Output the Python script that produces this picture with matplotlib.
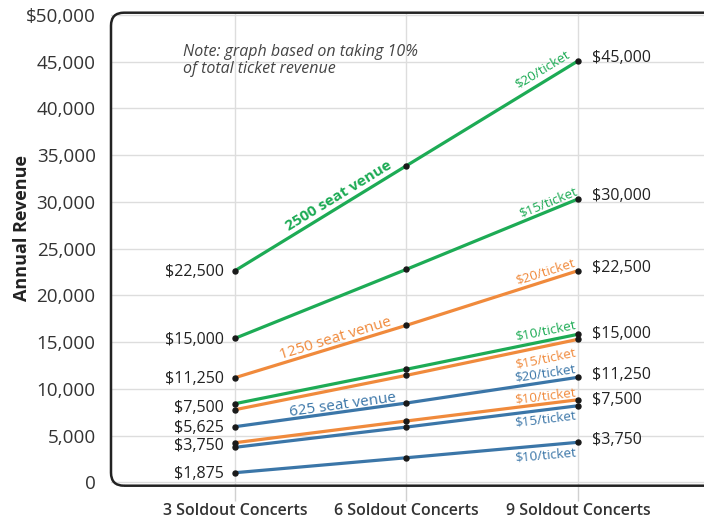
import math
import matplotlib
matplotlib.use('Agg')
import matplotlib.pyplot as plt
from matplotlib.patches import FancyBboxPatch
from matplotlib.transforms import IdentityTransform

plt.rcParams['font.family'] = ['Open Sans', 'DejaVu Sans']

# categories
concerts = ['3 Soldout Concerts', '6 Soldout Concerts', '9 Soldout Concerts']

# 2500 seat venue
v2500_20 = [22630, 33860, 45060]
v2500_15 = [15400, 22780, 30300]
v2500_10 = [8410, 12090, 15830]
# 1250 seat venue
v1250_20 = [11190, 16790, 22630]
v1250_15 = [7765, 11440, 15290]
v1250_10 = [4235, 6560, 8830]
# 625 seat venue
v625_20 = [5950, 8480, 11230]
v625_15 = [3745, 5910, 8190]
v625_10 = [1030, 2630, 4280]

left_labels = ['$22,500', '$15,000', '$11,250', '$7,500', '$5,625', '$3,750', '$1,875']
right_labels = ['$45,000', '$30,000', '$22,500', '$15,000', '$11,250', '$7,500', '$3,750']

y_ticks = [0, 5000, 10000, 15000, 20000, 25000, 30000, 35000, 40000, 45000, 50000]
y_ticklabels = ['0', '5,000', '10,000', '15,000', '20,000', '25,000', '30,000',
                '35,000', '40,000', '45,000', '$50,000']

green = '#1dab55'
orange = '#f08a3c'
blue = '#3b76a8'

fig = plt.figure(figsize=(7.04, 5.23), dpi=100)
ax = fig.add_axes([111/704, 37.3/523, 1 - 111/704, (510.3 - 37.3)/523])
ax.set_xlim(-0.723, 2.735)
ax.set_ylim(-360, 50220)

x = list(range(len(concerts)))

series = [
    (v2500_20, green), (v2500_15, green), (v2500_10, green),
    (v1250_20, orange), (v1250_15, orange), (v1250_10, orange),
    (v625_20, blue), (v625_15, blue), (v625_10, blue),
]
for vals, c in series:
    ax.plot(x, vals, '-', color=c, linewidth=2.3, zorder=3, solid_capstyle='butt')
    ax.plot(x, vals, 'o', color='#1a1a1a', markersize=3.6, zorder=4)

# grid + ticks
ax.set_yticks(y_ticks)
ax.set_yticklabels(y_ticklabels)
ax.set_xticks(x)
ax.set_xticklabels(concerts, fontweight='semibold')
ax.grid(True, color='#dddddd', linewidth=1)
ax.set_axisbelow(True)
for s in ax.spines.values():
    s.set_visible(False)
ax.tick_params(axis='y', length=0, pad=11, labelsize=13.6, labelcolor='#333333')
ax.tick_params(axis='x', length=10.5, width=1, color='#d0d0d0', pad=2,
               labelsize=11.5, labelcolor='#333333')
ax.set_ylabel('Annual Revenue', fontsize=13, fontweight='bold', color='#222222')
ax.yaxis.set_label_coords(-0.135, 0.545)

# rounded frame
frame = FancyBboxPatch((111, 37.3), 660, 473, boxstyle='round,pad=0,rounding_size=13',
                       transform=IdentityTransform(), fill=False, edgecolor='#222222',
                       linewidth=1.8, clip_on=False, zorder=5)
ax.add_patch(frame)

# value labels at ends
groups = [[v2500_20], [v2500_15], [v1250_20], [v2500_10, v1250_15],
          [v625_20], [v1250_10, v625_15], [v625_10]]
for lab, g in zip(left_labels, groups):
    yv = sum(s[0] for s in g) / len(g)
    ax.annotate(lab, (0, yv), xytext=(-8, -1), textcoords='offset points',
                ha='right', va='center', fontsize=11.5, color='#222222')
for lab, g in zip(right_labels, groups):
    yv = sum(s[2] for s in g) / len(g)
    ax.annotate(lab, (2, yv), xytext=(10, 2), textcoords='offset points',
                ha='left', va='center', fontsize=11.5, color='#222222')


def line_label(text, vals, xpos, dy_px, color, size, weight='normal'):
    i = 0 if xpos < 1 else 1
    p1 = ax.transData.transform((i, vals[i]))
    p2 = ax.transData.transform((i + 1, vals[i + 1]))
    ang = math.degrees(math.atan2(p2[1] - p1[1], p2[0] - p1[0]))
    t = xpos - i
    yv = vals[i] + t * (vals[i + 1] - vals[i])
    ax.annotate(text, (xpos, yv), xytext=(0, dy_px * 0.72), textcoords='offset points',
                ha='center', va='center', rotation=ang, rotation_mode='anchor',
                fontsize=size, color=color, fontweight=weight, zorder=6)


line_label('2500 seat venue', v2500_20, 0.606, 11, green, 11, 'bold')
line_label('1250 seat venue', v1250_20, 0.589, 8, orange, 11)
line_label('625 seat venue', v625_20, 0.63, 7, blue, 11)

line_label('$20/ticket', v2500_20, 1.79, 13, green, 9.6)
line_label('$15/ticket', v2500_15, 1.825, 9, green, 9.6)
line_label('$20/ticket', v1250_20, 1.808, 9, orange, 9.6)
line_label('$10/ticket', v2500_10, 1.808, 10, green, 9.6)
line_label('$15/ticket', v1250_15, 1.808, -12, orange, 9.6)
line_label('$20/ticket', v625_20, 1.808, 9, blue, 9.6)
line_label('$10/ticket', v1250_10, 1.808, 8, orange, 9.6)
line_label('$15/ticket', v625_15, 1.808, -9, blue, 9.6)
line_label('$10/ticket', v625_10, 1.808, -10, blue, 9.6)

fig.text(183/704, (523 - 60.5)/523, 'Note: graph based on taking 10%\nof total ticket revenue',
         ha='left', va='center', fontsize=11.5, style='italic',
         color='#444444', linespacing=1.15)

fig.savefig('out.png', dpi=100)
